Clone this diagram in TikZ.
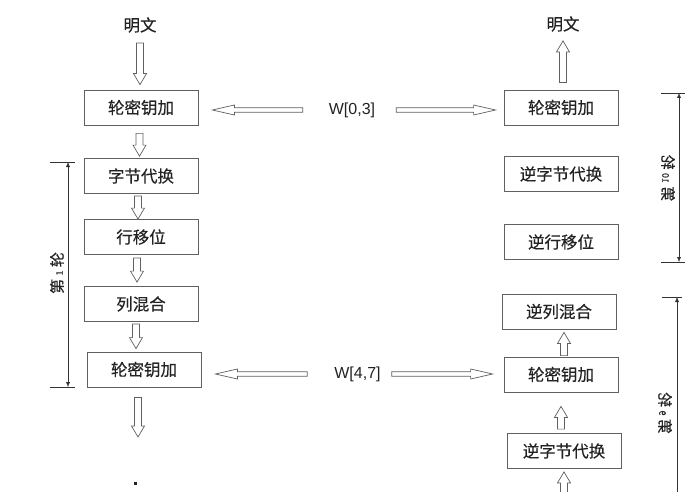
\documentclass[tikz,border=0pt]{standalone}
\usepackage{fontspec}
\setmainfont{Liberation Sans}
\newfontfamily\cjk[FakeBold=0.4]{Noto Sans CJK SC}
\usetikzlibrary{calc,arrows.meta}

\definecolor{boxline}{HTML}{606060}
\definecolor{txt}{HTML}{222222}

\tikzstyle{rec} = [rectangle,draw=boxline,line width=0.8pt,text=txt,text centered,minimum width=114pt,minimum height=35pt,inner sep=0pt,font=\cjk\fontsize{16.5}{18}\selectfont]
\tikzstyle{lbl} = [inner sep=0pt,text=txt,font=\cjk\fontsize{16.5}{18}\selectfont]
\tikzstyle{wkey} = [inner sep=0pt,text=txt,font=\fontsize{16}{18}\selectfont]
\tikzstyle{round} = [inner sep=0pt,text=txt,font=\cjk\fontsize{15}{15}\selectfont]

\tikzset{
  hollow/.style n args={5}{draw=boxline,line width=0.7pt,fill=white,to path={
    ($(\tikztostart)!#4!(\tikztotarget)$) coordinate (hA)
    ($(\tikztotarget)!#5!(\tikztostart)$) coordinate (hB)
    ($(hB)!#3!(hA)$) coordinate (hC)
    ($(hA)!#1!90:(hB)$) -- ($(hC)!#1!90:(hB)$) -- ($(hC)!#2!90:(hB)$) -- (hB)
    -- ($(hC)!#2!-90:(hB)$) -- ($(hC)!#1!-90:(hB)$) -- ($(hA)!#1!-90:(hB)$) -- cycle}},
  varr/.style 2 args={hollow={3.5pt}{6.5pt}{11pt}{#1}{#2}},
  harr/.style 2 args={hollow={2.2pt}{5pt}{22pt}{#1}{#2}},
  span/.style={draw=black!80,{Latex[length=5pt,width=4pt]}-{Latex[length=5pt,width=4pt]}}
}

\newcommand{\smalldigit}[1]{{\fontsize{9}{9}\selectfont #1}}

\begin{document}
\begin{tikzpicture}[x=1pt,y=-1pt]
    \useasboundingbox (0,0) rectangle (693,492);

    % encryption side
    \node[lbl] (pt) at (140,25) {明文};
    \node[rec] (k0) at (141,107.5) {轮密钥加};
    \node[rec] (sb) at (141,176) {字节代换};
    \node[rec] (sr) at (141,237) {行移位};
    \node[rec] (mc) at (141,304) {列混合};
    \node[rec] (k1) at (144,369.5) {轮密钥加};
    \coordinate (down) at (138,437);

    % decryption side
    \node[lbl] (ptr) at (563,24) {明文};
    \node[rec] (rk0) at (561,107.5) {轮密钥加};
    \node[rec] (isb) at (561,174) {逆字节代换};
    \node[rec] (isr) at (561,242) {逆行移位};
    \node[rec] (imc) at (559,311.5) {逆列混合};
    \node[rec] (rk1) at (561,374.5) {轮密钥加};
    \node[rec] (isb2) at (564,451) {逆字节代换};
    \coordinate (up) at (564,500);

    % round keys
    \node[wkey] (w0) at (352,110) {W[0,3]};
    \node[wkey] (w1) at (357.5,374) {W[4,7]};

    \draw[varr={10pt}{5pt}] (pt.south) to (pt.south |- k0.north);
    \draw[varr={8pt}{2pt}] ([xshift=-1.5pt]k0.south) to ([xshift=-1.5pt]k0.south |- sb.north);
    \draw[varr={2pt}{0pt}] ([xshift=-3pt]sb.south) to ([xshift=-3pt]sb.south |- sr.north);
    \draw[varr={3pt}{4pt}] ([xshift=-4pt]sr.south) to ([xshift=-4pt]sr.south |- mc.north);
    \draw[varr={2pt}{3pt}] ([xshift=-5pt]mc.south) to ([xshift=-5pt]mc.south |- k1.north);
    \draw[varr={10pt}{0pt}] (k1.south -| down) to (down);
    \fill[txt] (133.5,481.5) rectangle (136.5,484.5);

    \draw[varr={7pt}{9pt}] (ptr.south |- rk0.north) to (ptr.south);
    \draw[varr={1pt}{3pt}] ([xshift=3pt]rk1.north) to ([xshift=3pt]rk1.north |- imc.south);
    \draw[varr={4pt}{14pt}] ([xshift=-3pt]isb2.north) to ([xshift=-3pt]isb2.north |- rk1.south);
    \draw[varr={0pt}{3pt}] (up) to (up |- isb2.south);

    \draw[harr={26pt}{14pt}] (w0.west) to (w0.west -| k0.east);
    \draw[harr={21pt}{8pt}] (w0.east) to (w0.east -| rk0.west);
    \draw[harr={27pt}{14pt}] (w1.west) to (w1.west -| k1.east);
    \draw[harr={11pt}{11pt}] (w1.east) to (w1.east -| rk1.west);

    % round spans
    \coordinate (r1t) at (68,162);
    \coordinate (r1b) at (68,387);
    \draw[black!80] (50,162) -- (75,162) (50,387) -- (75,387);
    \draw[span] (r1t) -- (r1b);
    \node[round] (r1) at (57,273) {\rotatebox{90}{第 \smalldigit{1} 轮}};

    \coordinate (r10t) at (679,93);
    \coordinate (r10b) at (679,262);
    \draw[black!80] (661,93) -- (685,93) (661,262) -- (685,262);
    \draw[span] (r10t) -- (r10b);
    \node[round] (r10) at (668,178) {\reflectbox{\rotatebox{90}{第 \smalldigit{10} 轮}}};

    \coordinate (r9t) at (677,297);
    \coordinate (r9b) at (677,500);
    \draw[black!80] (662,297) -- (682,297);
    \draw[span,-{Latex[length=5pt,width=4pt]}] (r9b) -- (r9t);
    \node[round] (r9) at (665,413) {\reflectbox{\rotatebox{90}{第 \smalldigit{9} 轮}}};

\end{tikzpicture}
\end{document}
